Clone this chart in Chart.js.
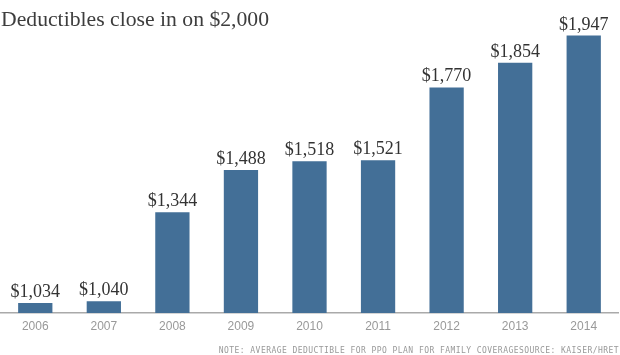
<!DOCTYPE html>
<html><head><meta charset="utf-8">
<script src="https://cdn.jsdelivr.net/npm/chart.js@4/dist/chart.umd.min.js"></script>
<style>html,body{margin:0;padding:0;background:#fff;}#wrap{width:620px;height:355px;position:relative;}</style>
</head><body><div id="wrap"><canvas id="c" width="620" height="355"></canvas></div>
<script>
const years = ['2006','2007','2008','2009','2010','2011','2012','2013','2014'];
const deductibles = [1034, 1040, 1344, 1488, 1518, 1521, 1770, 1854, 1947];
const titleText = 'Deductibles close in on $2,000';
const footText = 'NOTE: AVERAGE DEDUCTIBLE FOR PPO PLAN FOR FAMILY COVERAGESOURCE: KAISER/HRET';

const fmt = v => '$' + v.toLocaleString('en-US');

const decor = {
  id: 'decor',
  afterDatasetsDraw(chart) {
    const ctx = chart.ctx;
    const meta = chart.getDatasetMeta(0);
    ctx.save();
    ctx.fillStyle = '#333';
    ctx.font = '18px "Liberation Serif", serif';
    ctx.textAlign = 'center';
    ctx.textBaseline = 'alphabetic';
    meta.data.forEach((bar, i) => {
      ctx.fillText(fmt(deductibles[i]), bar.x, bar.y - 6);
    });
    ctx.restore();
  },
  afterDraw(chart) {
    const ctx = chart.ctx;
    ctx.save();
    ctx.fillStyle = '#3d3d3d';
    ctx.font = '21.7px "Liberation Serif", serif';
    ctx.textAlign = 'left';
    ctx.textBaseline = 'alphabetic';
    ctx.fillText(titleText, 1, 26);
    ctx.fillStyle = '#999';
    ctx.font = '8px "DejaVu Sans Mono", monospace';
    ctx.letterSpacing = '0.45px';
    ctx.textAlign = 'right';
    ctx.fillText(footText, 619, 353);
    ctx.restore();
  }
};

new Chart(document.getElementById('c'), {
  type: 'bar',
  data: {
    labels: years,
    datasets: [{
      data: deductibles,
      backgroundColor: '#436f97',
      barPercentage: 0.5,
      categoryPercentage: 1.0
    }]
  },
  options: {
    responsive: false,
    animation: false,
    devicePixelRatio: 1,
    layout: { padding: { top: 20, left: 1, right: 2, bottom: 0 } },
    plugins: { legend: { display: false }, tooltip: { enabled: false }, title: { display: false } },
    scales: {
      x: {
        grid: { display: false, drawTicks: false },
        border: { display: true, color: '#aaa', width: 1.5 },
        ticks: { color: '#999', font: { family: '"Liberation Sans Narrow", "Liberation Sans", sans-serif', size: 12 }, padding: 6 },
        afterFit(scale) { scale.height = 42; }
      },
      y: { display: false, min: 1000, max: 2000 }
    }
  },
  plugins: [decor]
});
</script>
</body></html>
